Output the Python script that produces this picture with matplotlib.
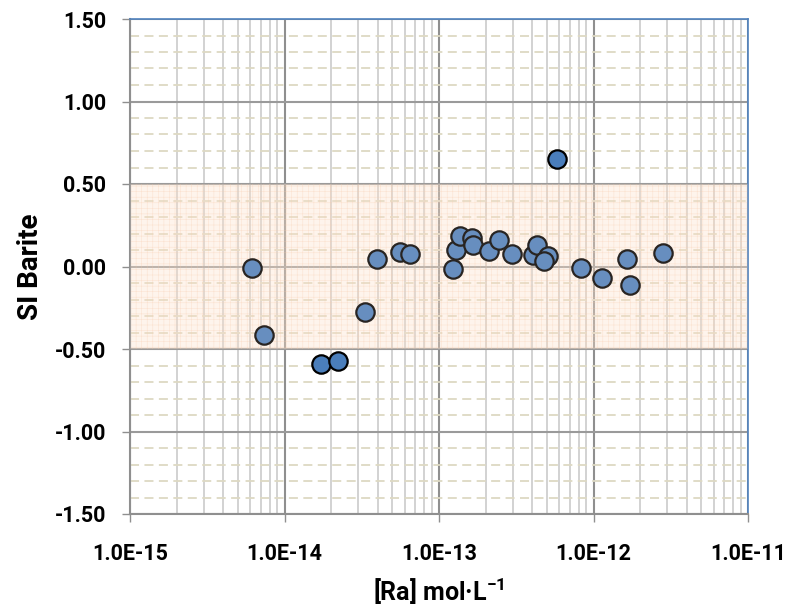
import numpy as np
import matplotlib
matplotlib.use("Agg")
import matplotlib.pyplot as plt
from matplotlib.ticker import LogLocator, FixedLocator, MultipleLocator

plt.rcParams['font.family'] = ['Roboto', 'DejaVu Sans']
plt.rcParams['mathtext.fontset'] = 'custom'
plt.rcParams['mathtext.rm'] = 'Roboto'
plt.rcParams['mathtext.bf'] = 'Roboto:bold'
plt.rcParams['hatch.linewidth'] = 0.4

# Radium concentration (mol/L) vs barite saturation index
ra_conc = [6.2e-15, 7.4e-15, 1.72e-14, 2.22e-14, 3.32e-14, 3.97e-14, 5.6e-14, 6.5e-14,
           1.23e-13, 1.29e-13, 1.37e-13, 1.64e-13, 1.66e-13, 2.1e-13, 2.44e-13, 2.97e-13,
           4.06e-13, 4.3e-13, 5.08e-13, 4.78e-13, 5.8e-13, 8.3e-13, 1.13e-12, 1.65e-12,
           1.72e-12, 2.82e-12]
si_barite = [-0.01, -0.415, -0.59, -0.57, -0.275, 0.045, 0.09, 0.075,
             -0.015, 0.10, 0.185, 0.175, 0.13, 0.095, 0.16, 0.075,
             0.07, 0.13, 0.065, 0.035, 0.65, -0.01, -0.07, 0.045,
             -0.11, 0.08]

band_lo, band_hi = -0.5, 0.5
y_ticks = [-1.5, -1.0, -0.5, 0.0, 0.5, 1.0, 1.5]
x_ticks = [1e-15, 1e-14, 1e-13, 1e-12, 1e-11]
x_labels = ['1.0E-15', '1.0E-14', '1.0E-13', '1.0E-12', '1.0E-11']

fig = plt.figure(figsize=(7.92, 6.12), dpi=100)
ax = fig.add_axes([130/792, 1 - 514/612, 618/792, 495/612])

ax.set_xscale('log')
ax.set_xlim(1e-15, 1e-11)
ax.set_ylim(-1.5, 1.5)

# grid
ax.yaxis.set_major_locator(FixedLocator(y_ticks))
ax.yaxis.set_minor_locator(MultipleLocator(0.1))
ax.xaxis.set_major_locator(FixedLocator(x_ticks))
ax.xaxis.set_minor_locator(LogLocator(base=10, subs=np.arange(2, 10)))
ax.grid(which='minor', axis='y', color='#ddd9c3', linestyle=(0, (5, 3)), linewidth=1.3, zorder=0)
ax.grid(which='minor', axis='x', color='#cfcfcf', linewidth=1.3, zorder=0)
ax.grid(which='major', axis='x', color='#8f8f8f', linewidth=1.5, zorder=0)
ax.grid(which='major', axis='y', color='#9a9a9a', linewidth=1.5, zorder=0)
ax.set_axisbelow(True)

# acceptable equilibrium band: textured fill under the points, light tint over them
ax.axhspan(band_lo, band_hi, facecolor=(0.99, 0.88, 0.79, 0.25),
           edgecolor=(0.97, 0.77, 0.63, 0.40), hatch='+++', linewidth=0, zorder=1)
ax.scatter(ra_conc, si_barite, s=175, color='#4a7ebb', edgecolors='black',
           linewidths=1.6, zorder=3)
ax.axhspan(band_lo, band_hi, facecolor=(1.0, 0.90, 0.83, 0.16), linewidth=0, zorder=4)

ax.set_xticks(x_ticks)
ax.set_xticklabels(x_labels)
ax.set_yticks(y_ticks)
ax.set_yticklabels(['%.2f' % v for v in y_ticks])
ax.tick_params(which='major', direction='out', length=6, width=1, color='#8f8f8f',
               labelsize=15.5, pad=11)
ax.tick_params(axis='x', which='major', pad=15)
ax.tick_params(which='minor', length=0)
for lab in ax.get_xticklabels() + ax.get_yticklabels():
    lab.set_fontweight('bold')

for side in ['left', 'bottom']:
    ax.spines[side].set_color('#8f8f8f')
    ax.spines[side].set_linewidth(1.5)
for side in ['top', 'right']:
    ax.spines[side].set_color('#4f81bd')
    ax.spines[side].set_linewidth(1.2)

ax.set_xlabel(r'[Ra] mol·L$^{\mathbf{-1}}$', fontsize=18, fontweight='bold', labelpad=8)
ax.set_ylabel('SI Barite', fontsize=20, fontweight='bold', labelpad=8)

fig.savefig('out.png', dpi=100)
